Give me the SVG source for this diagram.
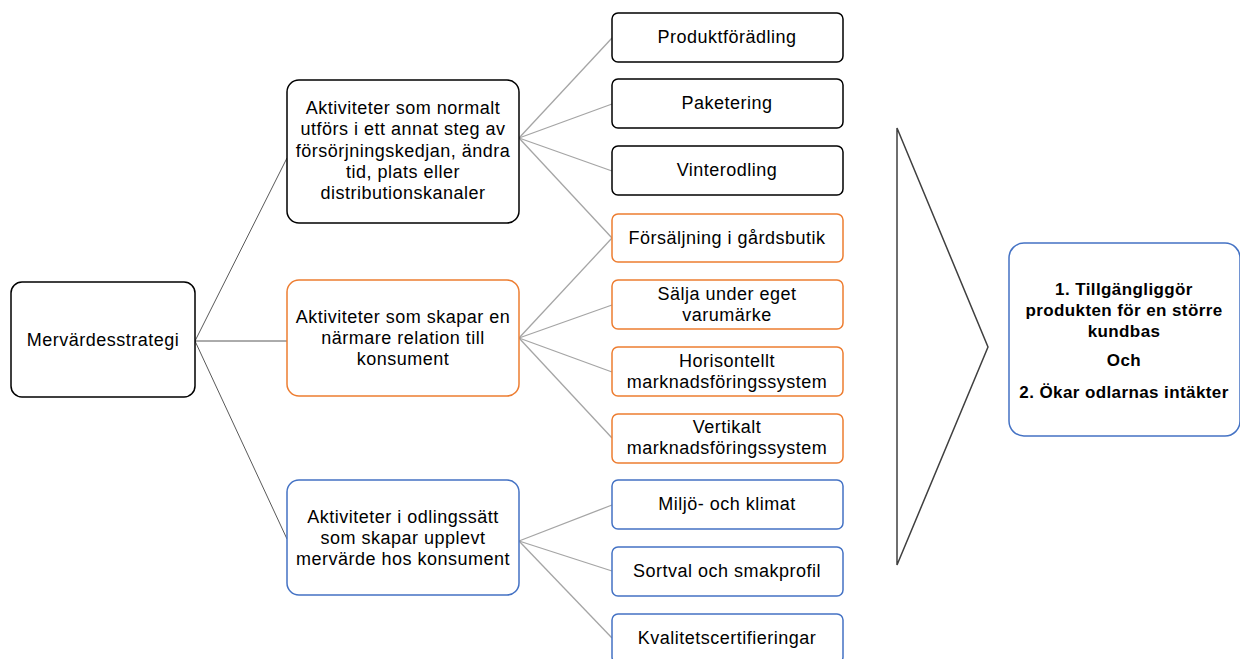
<svg xmlns="http://www.w3.org/2000/svg" width="1240" height="659" viewBox="0 0 1240 659">
<style>
text{font-family:"Liberation Sans",Arial,sans-serif;font-size:18px;letter-spacing:0.5px;fill:#000;text-anchor:middle}
.b{font-weight:bold;font-size:17px;letter-spacing:0.4px}
.k{fill:#fff;stroke:#000;stroke-width:1.5}
.o{fill:#fff;stroke:#ED7D31;stroke-width:1.5}
.u{fill:#fff;stroke:#4472C4;stroke-width:1.5}
.cl{stroke:#595959;stroke-width:1;fill:none}
.cr{stroke:#A5A5A5;stroke-width:1.3;fill:none}
</style>
<rect width="1240" height="659" fill="#fff"/>
<g id="connectors">
<line class="cl" x1="195" y1="341" x2="287" y2="158"/>
<line class="cl" x1="195" y1="341" x2="287" y2="341"/>
<line class="cl" x1="195" y1="341" x2="287" y2="539"/>
<line class="cr" x1="519" y1="138" x2="612" y2="38"/>
<line class="cr" x1="519" y1="138" x2="612" y2="104"/>
<line class="cr" x1="519" y1="138" x2="612" y2="171"/>
<line class="cr" x1="519" y1="138" x2="612" y2="238"/>
<line class="cr" x1="519" y1="338" x2="612" y2="238"/>
<line class="cr" x1="519" y1="338" x2="612" y2="305"/>
<line class="cr" x1="519" y1="338" x2="612" y2="372"/>
<line class="cr" x1="519" y1="338" x2="612" y2="438"/>
<line class="cr" x1="519" y1="541" x2="612" y2="505"/>
<line class="cr" x1="519" y1="541" x2="612" y2="571"/>
<line class="cr" x1="519" y1="541" x2="612" y2="638"/>
</g>
<g id="root">
<rect class="k" x="11" y="282" width="184" height="115" rx="11"/>
<text x="103" y="346">Mervärdesstrategi</text>
</g>
<g id="mid1">
<rect class="k" x="287" y="80" width="232" height="143" rx="12"/>
<text x="403" y="114">Aktiviteter som normalt</text>
<text x="403" y="135">utförs i ett annat steg av</text>
<text x="403" y="157">försörjningskedjan, ändra</text>
<text x="403" y="178">tid, plats eller</text>
<text x="403" y="199">distributionskanaler</text>
</g>
<g id="mid2">
<rect class="o" x="287" y="280" width="232" height="116" rx="12"/>
<text x="403" y="323">Aktiviteter som skapar en</text>
<text x="403" y="344">närmare relation till</text>
<text x="403" y="365">konsument</text>
</g>
<g id="mid3">
<rect class="u" x="287" y="480" width="232" height="115" rx="12"/>
<text x="403" y="523">Aktiviteter i odlingssätt</text>
<text x="403" y="544">som skapar upplevt</text>
<text x="403" y="565">mervärde hos konsument</text>
</g>
<g id="n1"><rect class="k" x="612" y="13" width="231" height="49" rx="6"/><text x="727" y="43">Produktförädling</text></g>
<g id="n2"><rect class="k" x="612" y="79" width="231" height="49" rx="6"/><text x="727" y="109">Paketering</text></g>
<g id="n3"><rect class="k" x="612" y="146" width="231" height="49" rx="6"/><text x="727" y="176">Vinterodling</text></g>
<g id="n4"><rect class="o" x="612" y="214" width="231" height="48" rx="6"/><text x="727" y="244">Försäljning i gårdsbutik</text></g>
<g id="n5"><rect class="o" x="612" y="280" width="231" height="49" rx="6"/><text x="727" y="300">Sälja under eget</text><text x="727" y="321">varumärke</text></g>
<g id="n6"><rect class="o" x="612" y="347" width="231" height="49" rx="6"/><text x="727" y="367">Horisontellt</text><text x="727" y="388">marknadsföringssystem</text></g>
<g id="n7"><rect class="o" x="612" y="414" width="231" height="49" rx="6"/><text x="727" y="433">Vertikalt</text><text x="727" y="454">marknadsföringssystem</text></g>
<g id="n8"><rect class="u" x="612" y="480" width="231" height="49" rx="6"/><text x="727" y="510">Miljö- och klimat</text></g>
<g id="n9"><rect class="u" x="612" y="547" width="231" height="49" rx="6"/><text x="727" y="577">Sortval och smakprofil</text></g>
<g id="n10"><rect class="u" x="612" y="614" width="231" height="49" rx="6"/><text x="727" y="644">Kvalitetscertifieringar</text></g>
<g id="arrow">
<polygon points="897,128 988,347 897,565" fill="#fff" stroke="#404040" stroke-width="1.5"/>
</g>
<g id="result">
<rect class="u" x="1009" y="243" width="231" height="193" rx="15"/>
<text class="b" x="1124" y="295">1. Tillgängliggör</text>
<text class="b" x="1124" y="316">produkten för en större</text>
<text class="b" x="1124" y="337">kundbas</text>
<text class="b" x="1124" y="366">Och</text>
<text class="b" x="1124" y="398">2. Ökar odlarnas intäkter</text>
</g>
</svg>
